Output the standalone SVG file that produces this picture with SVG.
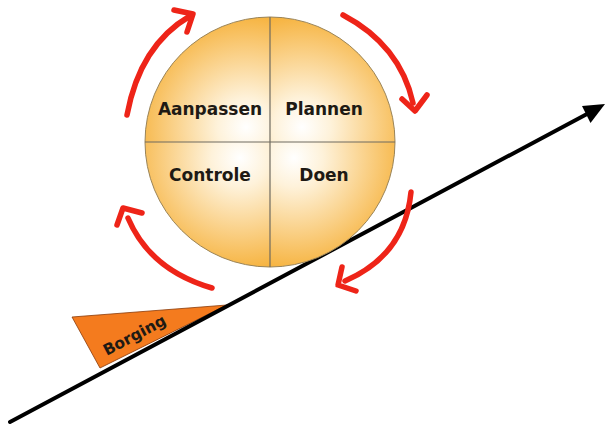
<svg xmlns="http://www.w3.org/2000/svg" width="606" height="425" viewBox="0 0 606 425">
  <style>
    .q { stroke: none; }
    .lbl { font-family: "DejaVu Sans", Verdana, sans-serif; font-weight: bold; font-size: 17px; fill: #1e1a14; text-anchor: middle; }
    .red { fill: none; stroke: #EE2418; stroke-width: 5.5; stroke-linecap: round; stroke-linejoin: round; }
    .div { stroke: #6e6a60; stroke-width: 1.2; fill: none; }
  </style>
  <defs>
    <radialGradient id="gA" gradientUnits="userSpaceOnUse" cx="246" cy="127" r="115">
      <stop offset="0" stop-color="#FFFFFF"/>
      <stop offset="0.25" stop-color="#FEF2DA"/>
      <stop offset="1" stop-color="#F6B13A"/>
    </radialGradient>
    <radialGradient id="gP" gradientUnits="userSpaceOnUse" cx="302" cy="127" r="115">
      <stop offset="0" stop-color="#FFFFFF"/>
      <stop offset="0.25" stop-color="#FEF2DA"/>
      <stop offset="1" stop-color="#F6B13A"/>
    </radialGradient>
    <radialGradient id="gC" gradientUnits="userSpaceOnUse" cx="240" cy="158" r="115">
      <stop offset="0" stop-color="#FFFFFF"/>
      <stop offset="0.25" stop-color="#FEF2DA"/>
      <stop offset="1" stop-color="#F6B13A"/>
    </radialGradient>
    <radialGradient id="gD" gradientUnits="userSpaceOnUse" cx="294" cy="158" r="115">
      <stop offset="0" stop-color="#FFFFFF"/>
      <stop offset="0.25" stop-color="#FEF2DA"/>
      <stop offset="1" stop-color="#F6B13A"/>
    </radialGradient>
  </defs>
  <rect width="606" height="425" fill="#FFFFFF"/>

  <g id="borging">
    <polygon points="72,317 227,305 100,368" fill="#F47B1E" stroke="#8a3a08" stroke-width="0.8"/>
    <text class="lbl" style="font-size:15.5px" transform="translate(137,340) rotate(-28)">Borging</text>
  </g>

  <g id="connectors">
    <line x1="10" y1="422" x2="587" y2="114" stroke="#000" stroke-width="4" stroke-linecap="round"/>
    <polygon points="605,104 590.5,123 582,106" fill="#000"/>
  </g>

  <g id="aanpassen">
    <path class="q" d="M270,142 L145,142 A125,125 0 0 1 270,17 Z" fill="url(#gA)"/>
    <text class="lbl" x="210" y="115">Aanpassen</text>
  </g>
  <g id="plannen">
    <path class="q" d="M270,142 L270,17 A125,125 0 0 1 395,142 Z" fill="url(#gP)"/>
    <text class="lbl" x="324" y="115">Plannen</text>
  </g>
  <g id="doen">
    <path class="q" d="M270,142 L395,142 A125,125 0 0 1 270,267 Z" fill="url(#gD)"/>
    <text class="lbl" x="324" y="181">Doen</text>
  </g>
  <g id="controle">
    <path class="q" d="M270,142 L270,267 A125,125 0 0 1 145,142 Z" fill="url(#gC)"/>
    <text class="lbl" x="210" y="181">Controle</text>
  </g>
  <g id="wheel-outline">
    <circle cx="270" cy="142" r="125" fill="none" stroke="#9a8458" stroke-width="1"/>
    <line class="div" x1="145" y1="142" x2="395" y2="142"/>
    <line class="div" x1="270" y1="17" x2="270" y2="267"/>
  </g>

  <g id="cycle-arrows">
    <path class="red" d="M127,115 Q140,45 190,16"/>
    <polyline class="red" points="174,10 193,14 187,32"/>
    <path class="red" d="M343,15 Q400,45 413,103"/>
    <polyline class="red" points="402,99 415,111 427,95"/>
    <path class="red" d="M411,192 Q405,255 345,281"/>
    <polyline class="red" points="342,267 338,285 356,291"/>
    <path class="red" d="M212,288 Q150,270 128,218"/>
    <polyline class="red" points="117,225 123,208 142,213"/>
  </g>
</svg>
